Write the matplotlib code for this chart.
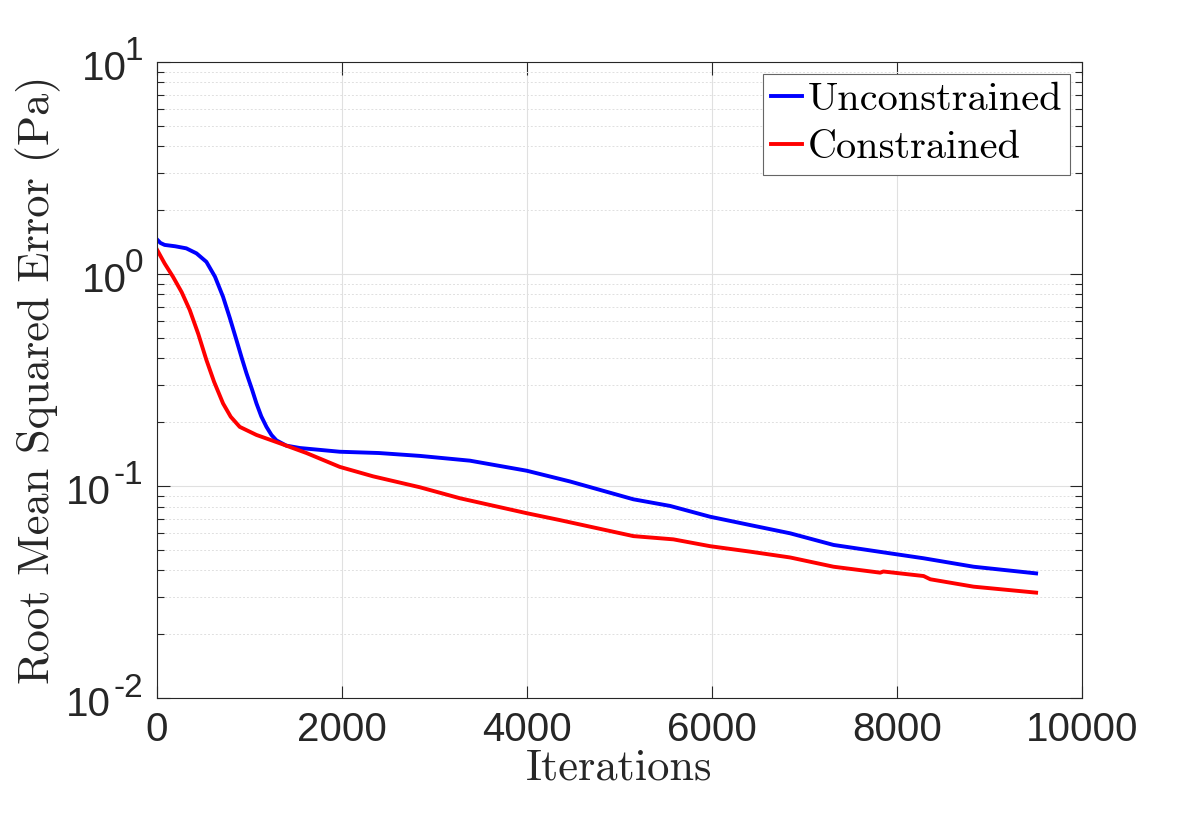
import math
import matplotlib
matplotlib.use("Agg")
import matplotlib.pyplot as plt
from matplotlib.ticker import FixedLocator, LogLocator, NullFormatter
from matplotlib.transforms import blended_transform_factory, offset_copy

# values
iters_unc = [0, 40, 86, 200, 320, 430, 537, 630, 717, 790, 861, 920, 970, 1030, 1078,
             1130, 1186, 1240, 1294, 1400, 1546, 1978, 2400, 2843, 3384, 3997, 4465,
             5150, 5546, 5978, 6411, 6843, 7312, 7924, 8285, 8825, 9500]
rmse_unc = [1.46, 1.40, 1.37, 1.35, 1.32, 1.25, 1.14, 0.97, 0.78, 0.62, 0.489, 0.40,
            0.34, 0.285, 0.245, 0.213, 0.19, 0.174, 0.164, 0.155, 0.151, 0.145, 0.143,
            0.1386, 0.1316, 0.118, 0.105, 0.0865, 0.0805, 0.0716, 0.0654, 0.0598,
            0.0527, 0.0481, 0.0456, 0.0416, 0.0387]

iters_con = [0, 86, 176, 270, 357, 450, 537, 620, 717, 800, 897, 1078, 1330, 1618,
             1978, 2338, 2843, 3276, 3997, 4357, 5150, 5582, 5978, 6411, 6843, 7312,
             7816, 7850, 8285, 8357, 8825, 9500]
rmse_con = [1.31, 1.12, 0.97, 0.82, 0.676, 0.52, 0.393, 0.31, 0.245, 0.212, 0.19,
            0.174, 0.159, 0.143, 0.123, 0.111, 0.0986, 0.0875, 0.0744, 0.069, 0.058,
            0.056, 0.052, 0.049, 0.046, 0.0416, 0.039, 0.0395, 0.0376, 0.0363,
            0.0335, 0.0314]

x_ticks = [0, 2000, 4000, 6000, 8000, 10000]
y_ticks = [1e-2, 1e-1, 1e0, 1e1]

plt.rcParams['font.family'] = ['Liberation Sans', 'DejaVu Sans']

fig = plt.figure(figsize=(11.96, 8.14), dpi=100)
ax = fig.add_axes([0.131, 0.1425, 0.774, 0.7815])

ax.semilogy(iters_unc, rmse_unc, color=(0, 0, 1), lw=2.8, label='Unconstrained')
ax.semilogy(iters_con, rmse_con, color=(1, 0, 0), lw=2.8, label='Constrained')

ax.set_xlim(0, 10000)
ax.set_ylim(1e-2, 1e1)
ax.xaxis.set_major_locator(FixedLocator(x_ticks))
ax.yaxis.set_major_locator(FixedLocator(y_ticks))
ax.yaxis.set_minor_locator(LogLocator(base=10, subs=range(2, 10)))
ax.yaxis.set_minor_formatter(NullFormatter())
ax.set_yticklabels([])

edge = (0.15, 0.15, 0.15)
for s in ax.spines.values():
    s.set_color(edge)
    s.set_linewidth(0.8)
ax.tick_params(which='both', direction='in', top=True, right=True, colors=edge,
               labelsize=29, width=0.8)
ax.tick_params(which='major', length=9)
ax.tick_params(which='minor', length=5)
ax.tick_params(axis='x', pad=9)

# y tick labels drawn as "10" plus a large raised exponent, MATLAB style
trans = blended_transform_factory(ax.transAxes, ax.transData)
for v in y_ticks:
    e = round(math.log10(v))
    sup = '-%d' % -e if e < 0 else '%d' % e
    ax.text(-0.015, v, sup, transform=offset_copy(trans, fig=fig, x=0, y=10, units='dots'),
            ha='right', va='center', fontsize=24, color=edge, clip_on=False)
    ax.text(-0.015 - (0.0175 * len(sup)), v, '10',
            transform=offset_copy(trans, fig=fig, x=0, y=-7, units='dots'),
            ha='right', va='center', fontsize=29, color=edge, clip_on=False)

ax.grid(True, which='major', color=(0.88, 0.88, 0.88), lw=0.8)
ax.grid(True, which='minor', axis='y', color=(0.88, 0.88, 0.88), lw=0.7, ls=(0, (2, 2)))
ax.set_axisbelow(True)

ax.set_xlabel('Iterations', family='cmr10', fontsize=32, color=edge, labelpad=0)
ax.set_ylabel('Root Mean Squared Error (Pa)', family='cmr10', fontsize=32,
              color=edge, labelpad=0)
ax.yaxis.set_label_coords(-0.103, 0.5)

leg = ax.legend(loc='upper right', prop={'family': 'cmr10', 'size': 29},
                fancybox=False, framealpha=1, edgecolor=(0.4, 0.4, 0.4),
                handlelength=0.75, handletextpad=0.15, borderpad=0.2,
                labelspacing=0.3, borderaxespad=0.3)
leg.get_frame().set_linewidth(0.8)

fig.savefig('out.png', dpi=100)
